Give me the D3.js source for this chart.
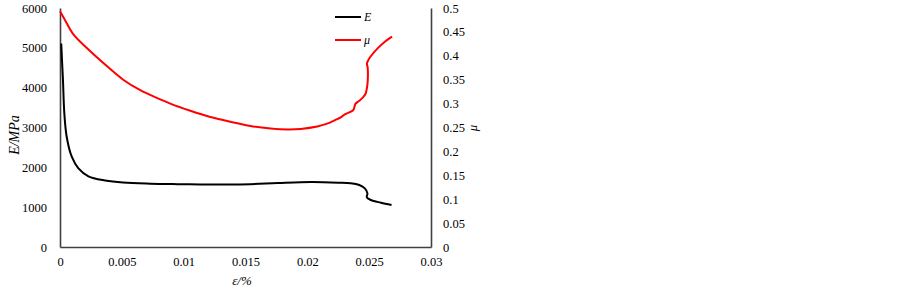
<!DOCTYPE html>
<html>
<head>
<meta charset="utf-8">
<script src="https://cdn.jsdelivr.net/npm/d3@7"></script>
<style>
  body { margin: 0; background: #fff; }
  svg { display: block; font-family: "Liberation Serif", "Times New Roman", serif; }
</style>
</head>
<body>
<svg id="chart" width="902" height="290"></svg>
<script>
    // strain values (x) and elastic modulus E (left axis)
    var strainE = [0.0001, 0.00016, 0.00024, 0.00035, 0.00054, 0.00095, 0.00149, 0.0023, 0.00365, 0.0051,
        0.0073, 0.0095, 0.01135, 0.0135, 0.0154, 0.0176, 0.0203, 0.0225, 0.0235, 0.0242,
        0.02465, 0.02486, 0.02481, 0.02514, 0.02595, 0.02681];
    var modulusE = [5110, 4700, 4192, 3356, 2769, 2267, 1975, 1775, 1670, 1618,
        1590, 1578, 1572, 1570, 1578, 1605, 1630, 1615, 1599, 1556,
        1473, 1348, 1247, 1180, 1112, 1054];

    // strain values (x) and Poisson ratio mu (right axis)
    var strainMu = [0, 0.0004, 0.00105, 0.00243, 0.00381, 0.00511, 0.00649, 0.00811, 0.00892, 0.01054,
        0.01216, 0.01378, 0.0154, 0.01703, 0.01841, 0.01946, 0.0208, 0.0216, 0.0222,
        0.0227, 0.0230, 0.0237, 0.0238, 0.0239, 0.0242, 0.0245, 0.0247, 0.0248, 0.02488,
        0.02488, 0.02482, 0.02495, 0.0251, 0.0257, 0.0262, 0.02685];
    var poissonMu = [0.493, 0.475, 0.446, 0.410, 0.378, 0.350, 0.328, 0.309, 0.300, 0.285,
        0.272, 0.262, 0.253, 0.248, 0.246, 0.247, 0.252, 0.258, 0.265,
        0.271, 0.277, 0.286, 0.292, 0.300, 0.306, 0.313, 0.320, 0.330, 0.346,
        0.375, 0.384, 0.392, 0.398, 0.416, 0.428, 0.440];

    var xTicks = [0, 0.005, 0.01, 0.015, 0.02, 0.025, 0.03];
    var leftTicks = [0, 1000, 2000, 3000, 4000, 5000, 6000];
    var rightTicks = [0, 0.05, 0.1, 0.15, 0.2, 0.25, 0.3, 0.35, 0.4, 0.45, 0.5];

    (function () {
        var svg = d3.select('#chart');

        var plotLeft = 60, plotRight = 431, plotTop = 8, plotBottom = 247;
        var axisColor = '#404040';

        var scaleX = d3.scaleLinear().domain([0, 0.03]).range([plotLeft, plotRight]);
        var scaleE = d3.scaleLinear().domain([0, 6000]).range([plotBottom, plotTop]);
        var scaleMu = d3.scaleLinear().domain([0, 0.5]).range([plotBottom, plotTop]);

        function styleAxis(g) {
            g.select('.domain').attr('stroke', axisColor).attr('stroke-width', 1.6);
            g.selectAll('.tick line').remove();
            g.selectAll('.tick text').attr('fill', '#000').attr('font-size', 12.5)
                .attr('font-family', '"Liberation Serif", "Times New Roman", serif');
        }

        svg.append('g')
            .attr('transform', 'translate(0,' + plotBottom + ')')
            .call(d3.axisBottom(scaleX).tickValues(xTicks).tickSize(0).tickPadding(10)
                .tickFormat(function (d) { return String(+d.toFixed(3)); }))
            .call(styleAxis);

        svg.append('g')
            .attr('transform', 'translate(' + plotLeft + ',0)')
            .call(d3.axisLeft(scaleE).tickValues(leftTicks).tickSize(0).tickPadding(13)
                .tickFormat(function (d) { return String(d); }))
            .call(styleAxis);

        svg.append('g')
            .attr('transform', 'translate(' + plotRight + ',0)')
            .call(d3.axisRight(scaleMu).tickValues(rightTicks).tickSize(0).tickPadding(12)
                .tickFormat(function (d) { return String(+d.toFixed(2)); }))
            .call(styleAxis);

        // axis titles
        svg.append('text')
            .attr('transform', 'translate(19,135) rotate(-90)')
            .attr('text-anchor', 'middle')
            .attr('font-size', 14)
            .attr('font-style', 'italic')
            .text('E/MPa');

        svg.append('text')
            .attr('transform', 'translate(477,128) rotate(-90)')
            .attr('text-anchor', 'middle')
            .attr('font-size', 13)
            .attr('font-style', 'italic')
            .text('μ');

        svg.append('text')
            .attr('x', 242)
            .attr('y', 285)
            .attr('text-anchor', 'middle')
            .attr('font-size', 13)
            .attr('font-style', 'italic')
            .text('ε/%');

        var lineE = d3.line()
            .x(function (d, i) { return scaleX(strainE[i]); })
            .y(function (d) { return scaleE(d); })
            .curve(d3.curveCatmullRom.alpha(0.5));

        var lineMu = d3.line()
            .x(function (d, i) { return scaleX(strainMu[i]); })
            .y(function (d) { return scaleMu(d); })
            .curve(d3.curveCatmullRom.alpha(0.5));

        svg.append('path')
            .datum(poissonMu)
            .attr('d', lineMu)
            .attr('fill', 'none')
            .attr('stroke', '#ff0000')
            .attr('stroke-width', 2);

        svg.append('path')
            .datum(modulusE)
            .attr('d', lineE)
            .attr('fill', 'none')
            .attr('stroke', '#000')
            .attr('stroke-width', 2);

        // legend
        var legend = [
            {label: 'E', color: '#000', y: 17},
            {label: 'μ', color: '#ff0000', y: 40}
        ];

        var lg = svg.append('g').attr('class', 'legend');
        legend.forEach(function (item) {
            lg.append('line')
                .attr('x1', 335).attr('x2', 361)
                .attr('y1', item.y).attr('y2', item.y)
                .attr('stroke', item.color)
                .attr('stroke-width', 2);
            lg.append('text')
                .attr('x', 364)
                .attr('y', item.y + 4)
                .attr('font-size', 12)
                .attr('font-style', 'italic')
                .text(item.label);
        });
    })();
</script>
</body>
</html>
